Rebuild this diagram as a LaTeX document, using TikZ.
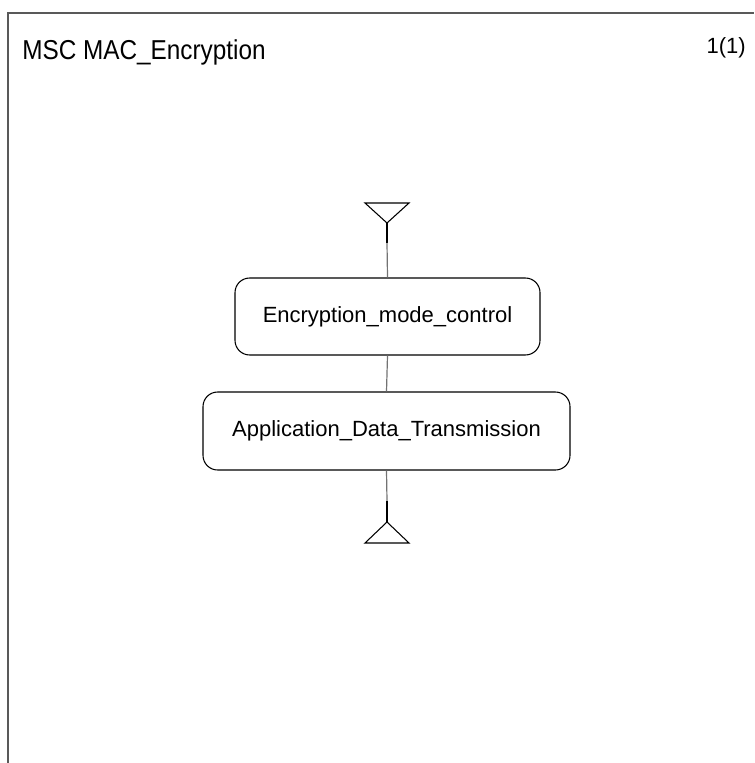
\documentclass[tikz,border=0pt]{standalone}
\usepackage{fontspec}
\setmainfont{Liberation Sans}
\begin{document}
\begin{tikzpicture}[x=0.75pt,y=-0.75pt,
    msref/.style={draw,rounded corners=11pt,line width=0.8pt,inner sep=0pt,
      font=\fontsize{16.5}{18}\selectfont},
    lifeline/.style={draw=black!55,line width=0.9pt},
    stem/.style={draw,line width=1.6pt}]
    \def\u{0.75pt}
    \useasboundingbox (0,0) rectangle (754,763);
    \draw [black!65,line width=1.1pt] (8,763) -- (8,13) -- (754,13);
    \node [anchor=base west,inner sep=0pt] (T0) at (22,60)
      {\fontsize{20.5}{22}\selectfont\addfontfeature{FakeStretch=0.89}MSC MAC\_Encryption};
    \node [anchor=base east,inner sep=0pt] (T1) at (746,54)
      {\fontsize{16.5}{18}\selectfont 1(1)};
    \coordinate (S0) at (387,223);
    \coordinate (S1) at (387,243);
    \node [msref,minimum width=305*\u,minimum height=77*\u] (R0) at (387.5,316.5)
      {Encryption\_mode\_control};
    \node [msref,minimum width=367*\u,minimum height=78*\u] (R1) at (386.5,431)
      {Application\_Data\_Transmission};
    \coordinate (E1) at (387,501);
    \coordinate (E0) at (387,522);
    \draw [line width=0.8pt] (S0) -- ++(-22,-20) -- ++(44,0) -- cycle;
    \draw [line width=0.8pt] (E0) -- ++(-22,21) -- ++(44,0) -- cycle;
    \path (S0) edge [stem] (S1);
    \path (S1) edge [lifeline] (R0.north);
    \path (R0.south) edge [lifeline] (R1.north);
    \path (R1.south) edge [lifeline] (E1);
    \path (E1) edge [stem] (E0);
\end{tikzpicture}
\end{document}
